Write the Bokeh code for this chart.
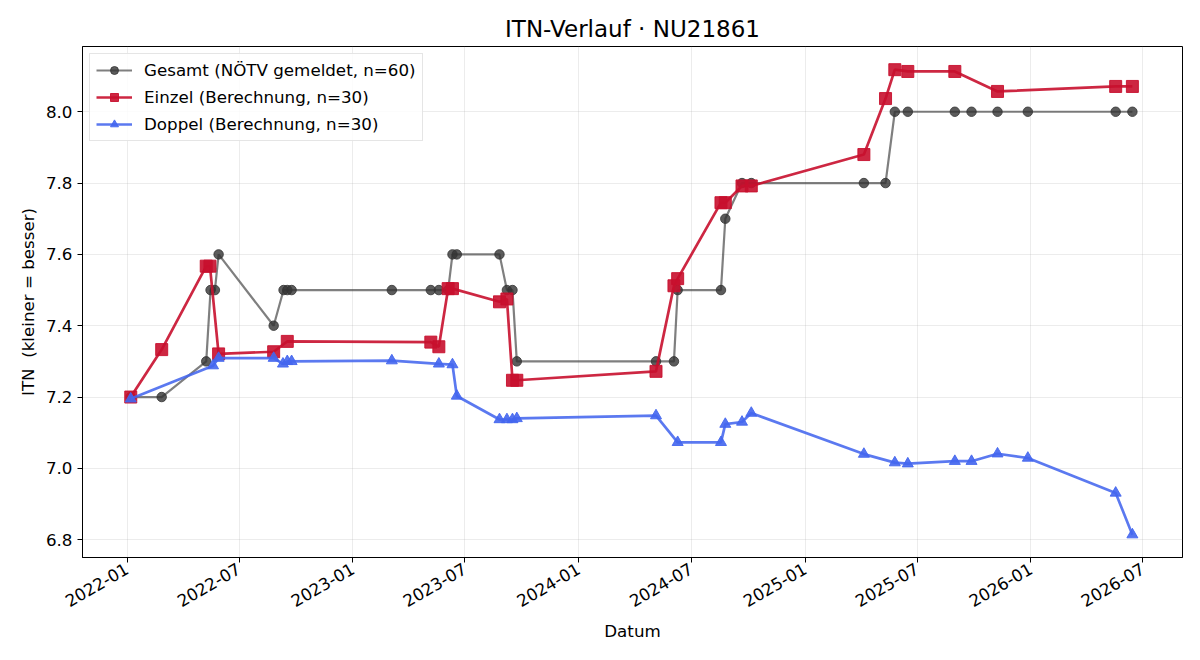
import pandas as pd
from math import pi
from bokeh.plotting import figure
from bokeh.models import FixedTicker, DatetimeTickFormatter, NumeralTickFormatter, Range1d, Legend
from bokeh.embed import file_html
from bokeh.resources import INLINE

# ---- data ----
gesamt_dates = ["2022-01-07", "2022-02-26", "2022-05-09", "2022-05-16", "2022-05-23", "2022-05-29",
                "2022-08-26", "2022-09-11", "2022-09-17", "2022-09-24", "2023-03-05", "2023-05-07",
                "2023-05-20", "2023-06-04", "2023-06-11", "2023-06-18", "2023-08-26", "2023-09-07",
                "2023-09-16", "2023-09-23", "2024-05-05", "2024-06-03", "2024-06-09", "2024-08-18",
                "2024-08-25", "2024-09-21", "2024-10-06", "2025-04-06", "2025-05-11", "2025-05-26",
                "2025-06-16", "2025-08-31", "2025-09-27", "2025-11-08", "2025-12-27", "2026-05-18",
                "2026-06-14"]
gesamt_itn = [7.2, 7.2, 7.3, 7.5, 7.5, 7.6,
              7.4, 7.5, 7.5, 7.5, 7.5, 7.5,
              7.5, 7.5, 7.6, 7.6, 7.6, 7.5,
              7.5, 7.3, 7.3, 7.3, 7.5, 7.5,
              7.7, 7.8, 7.8, 7.8, 7.8, 8.0,
              8.0, 8.0, 8.0, 8.0, 8.0, 8.0,
              8.0]

einzel_dates = ["2022-01-07", "2022-02-26", "2022-05-09", "2022-05-15", "2022-05-29", "2022-08-26",
                "2022-09-17", "2023-05-07", "2023-05-20", "2023-06-04", "2023-06-11", "2023-08-26",
                "2023-09-07", "2023-09-16", "2023-09-23", "2024-05-05", "2024-06-03", "2024-06-09",
                "2024-08-18", "2024-08-25", "2024-09-21", "2024-10-06", "2025-04-06", "2025-05-11",
                "2025-05-26", "2025-06-16", "2025-08-31", "2025-11-08", "2026-05-18", "2026-06-14"]
einzel_itn = [7.200, 7.333, 7.567, 7.567, 7.321, 7.327,
              7.356, 7.354, 7.341, 7.504, 7.504, 7.467,
              7.475, 7.247, 7.247, 7.272, 7.512, 7.532,
              7.745, 7.745, 7.792, 7.792, 7.880, 8.037,
              8.118, 8.113, 8.113, 8.057, 8.071, 8.071]

doppel_dates = ["2022-01-07", "2022-05-20", "2022-05-29", "2022-08-26", "2022-09-10", "2022-09-17",
                "2022-09-24", "2023-03-05", "2023-05-20", "2023-06-11", "2023-06-18", "2023-08-26",
                "2023-09-07", "2023-09-16", "2023-09-23", "2024-05-05", "2024-06-09", "2024-08-18",
                "2024-08-25", "2024-09-21", "2024-10-06", "2025-04-06", "2025-05-26", "2025-06-16",
                "2025-08-31", "2025-09-27", "2025-11-08", "2025-12-27", "2026-05-18", "2026-06-14"]
doppel_itn = [7.195, 7.288, 7.309, 7.309, 7.293, 7.300,
              7.300, 7.302, 7.293, 7.291, 7.203, 7.137,
              7.137, 7.137, 7.140, 7.148, 7.073, 7.073,
              7.124, 7.130, 7.155, 7.040, 7.016, 7.013,
              7.020, 7.020, 7.041, 7.029, 6.931, 6.814]

x_ticks = ["2022-01-01", "2022-07-01", "2023-01-01", "2023-07-01", "2024-01-01",
           "2024-07-01", "2025-01-01", "2025-07-01", "2026-01-01", "2026-07-01"]
y_ticks = [6.8, 7.0, 7.2, 7.4, 7.6, 7.8, 8.0]

labels = ["Gesamt (NÖTV gemeldet, n=60)", "Einzel (Berechnung, n=30)", "Doppel (Berechnung, n=30)"]

# ---- figure ----
FONT = "DejaVu Sans"
FS = "16.7px"
gd = pd.to_datetime(gesamt_dates)
ed = pd.to_datetime(einzel_dates)
dd = pd.to_datetime(doppel_dates)

p = figure(width=1200, height=660, x_axis_type="datetime", output_backend="svg",
           toolbar_location=None, title="ITN-Verlauf · NU21861",
           x_range=Range1d(pd.Timestamp("2021-10-21"), pd.Timestamp("2026-09-03")),
           y_range=Range1d(6.75, 8.183),
           min_border_left=82, min_border_right=18, min_border_top=46, min_border_bottom=103)

p.title.align = "center"
p.title.text_font = FONT
p.title.text_font_size = "23px"
p.title.text_font_style = "normal"
p.title.text_color = "#000000"

l1 = p.line(gd, gesamt_itn, line_color="#3a3a3a", line_alpha=0.65, line_width=2.2)
s1 = p.scatter(gd, gesamt_itn, marker="circle", size=9.5, fill_color="#333333", line_color="#333333",
               fill_alpha=0.8, line_alpha=0.8)
l2 = p.line(ed, einzel_itn, line_color="#c8102e", line_alpha=0.9, line_width=2.7)
s2 = p.scatter(ed, einzel_itn, marker="square", size=12, fill_color="#c8102e", line_color="#c8102e",
               fill_alpha=0.9, line_alpha=0.9)
l3 = p.line(dd, doppel_itn, line_color="#4466ee", line_alpha=0.88, line_width=2.7)
s3 = p.scatter(dd, doppel_itn, marker="triangle", size=11, fill_color="#4466ee", line_color="#4466ee",
               fill_alpha=0.9, line_alpha=0.9)

legend = Legend(items=[(labels[0], [l1, s1]), (labels[1], [l2, s2]), (labels[2], [l3, s3])],
                location="top_left")
legend.label_text_font = FONT
legend.label_text_font_size = FS
legend.label_text_color = "#000000"
legend.glyph_width = 36
legend.glyph_height = 20
legend.label_standoff = 12
legend.label_height = 20
legend.spacing = 7
legend.padding = 6
legend.margin = 7
legend.border_line_color = "#cccccc"
legend.border_line_width = 1
legend.background_fill_alpha = 0.85
p.add_layout(legend)

# axes
p.xaxis.ticker = FixedTicker(ticks=[pd.Timestamp(t).value / 1e6 for t in x_ticks])
fmt = "%Y-%m"
p.xaxis.formatter = DatetimeTickFormatter(microseconds=fmt, milliseconds=fmt, seconds=fmt,
                                          minsec=fmt, minutes=fmt, hourmin=fmt, hours=fmt,
                                          days=fmt, months=fmt, years=fmt)
p.xaxis.major_label_orientation = pi / 6
p.yaxis.ticker = FixedTicker(ticks=y_ticks)
p.yaxis.formatter = NumeralTickFormatter(format="0.0")

for ax in (p.xaxis, p.yaxis):
    ax.axis_label_text_font = FONT
    ax.axis_label_text_font_size = FS
    ax.axis_label_text_font_style = "normal"
    ax.axis_label_text_color = "#000000"
    ax.major_label_text_font = FONT
    ax.major_label_text_font_size = FS
    ax.major_label_text_color = "#000000"
    ax.minor_tick_line_color = None
    ax.major_tick_in = 0
    ax.major_tick_out = 5
    ax.axis_line_color = "#000000"
    ax.major_tick_line_color = "#000000"

p.xaxis.axis_label = "Datum"
p.yaxis.axis_label = "ITN\u00a0 (kleiner = besser)"

p.grid.grid_line_color = "#b0b0b0"
p.grid.grid_line_alpha = 0.3
p.grid.grid_line_width = 0.8
p.outline_line_color = "#000000"
p.outline_line_alpha = 1.0
p.outline_line_width = 1

open("out.html", "w").write(file_html(p, INLINE))
